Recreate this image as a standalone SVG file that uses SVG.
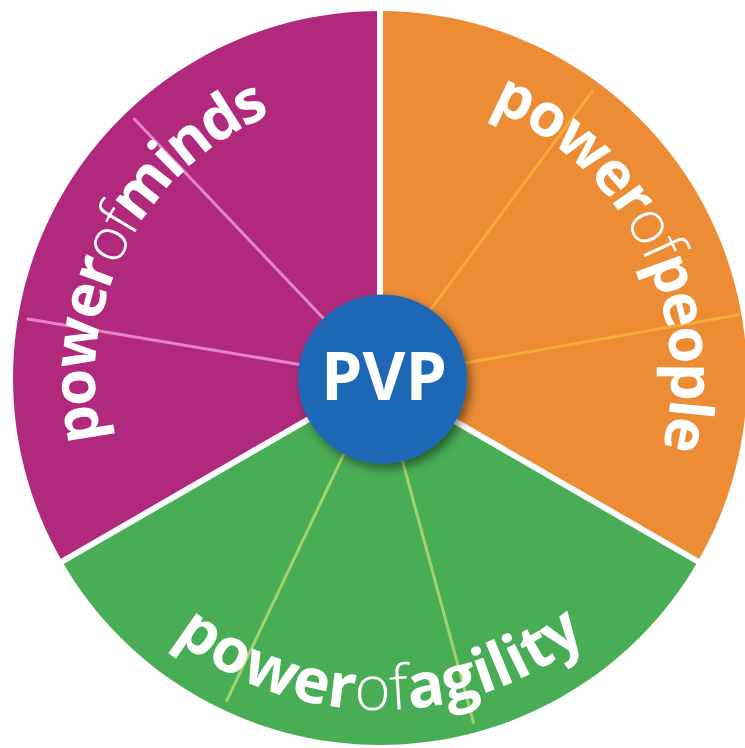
<svg xmlns="http://www.w3.org/2000/svg" width="745" height="748" viewBox="0 0 745 748">
  <style>
    .lbl { font-family: "Open Sans", "Noto Sans", "Liberation Sans", sans-serif; fill: #ffffff; }
    .b { font-weight: 700; }
    .l { font-weight: 300; }
    .gap { stroke: #ffffff; stroke-width: 6; }
    .rib { stroke-width: 3; stroke-linecap: round; }
  </style>
  <defs>
    <!-- baselines for the curved sector titles, centred on the wheel hub -->
    <path id="arcMinds" d="M133.2,520.5 A285,285 0 0 1 380,93" fill="none"/>
    <path id="arcPeople" d="M380,87 A291,291 0 0 1 632,523.5" fill="none"/>
    <path id="arcAgility" d="M92.5,544 A332,332 0 0 0 667.5,544" fill="none"/>
    <filter id="hubShadow" x="-30%" y="-30%" width="160%" height="160%">
      <feDropShadow dx="4" dy="5" stdDeviation="5" flood-color="#000000" flood-opacity="0.45"/>
    </filter>
  </defs>

  <rect width="745" height="748" fill="#ffffff"/>

  <!-- wheel sectors -->
  <g id="sector-minds">
    <path d="M380,378 L62.2,561.5 A367,367 0 0 1 380,11 Z" fill="#b1297d"/>
    <line class="rib" x1="380" y1="378" x2="134.3" y2="119" stroke="#e586c2"/>
    <line class="rib" x1="380" y1="378" x2="28" y2="319" stroke="#e586c2"/>
  </g>
  <g id="sector-people">
    <path d="M380,378 L380,11 A367,367 0 0 1 697.8,561.5 Z" fill="#ec8c35"/>
    <line class="rib" x1="380" y1="378" x2="592.4" y2="91" stroke="#f7aa3c"/>
    <line class="rib" x1="380" y1="378" x2="738" y2="315" stroke="#f7aa3c"/>
  </g>
  <g id="sector-agility">
    <path d="M380,378 L697.8,561.5 A367,367 0 0 1 62.2,561.5 Z" fill="#48ad54"/>
    <line class="rib" x1="380" y1="378" x2="226.8" y2="700.5" stroke="#a0d26e"/>
    <line class="rib" x1="380" y1="378" x2="473.5" y2="722.5" stroke="#a0d26e"/>
  </g>

  <!-- white separators between sectors -->
  <g id="separators">
    <line class="gap" x1="380" y1="378" x2="380" y2="0"/>
    <line class="gap" x1="380" y1="378" x2="50" y2="568.5"/>
    <line class="gap" x1="380" y1="378" x2="710" y2="568.5"/>
  </g>

  <!-- sector titles -->
  <g id="title-minds">
    <text class="lbl" font-size="60" letter-spacing="-2.6"><textPath href="#arcMinds" startOffset="284.5" text-anchor="middle"><tspan class="b">power</tspan><tspan class="l">of</tspan><tspan class="b">minds</tspan></textPath></text>
  </g>
  <g id="title-people">
    <text class="lbl" font-size="60" letter-spacing="-2.4"><textPath href="#arcPeople" startOffset="319.5" text-anchor="middle"><tspan class="b">power</tspan><tspan class="l">of</tspan><tspan class="b">people</tspan></textPath></text>
  </g>
  <g id="title-agility">
    <text class="lbl" font-size="62" letter-spacing="0.3"><textPath href="#arcAgility" startOffset="347.7" text-anchor="middle"><tspan class="b">power</tspan><tspan class="l">of</tspan><tspan class="b">agility</tspan></textPath></text>
  </g>

  <!-- hub -->
  <g id="hub">
    <circle cx="382.5" cy="379" r="84.5" fill="#1f68b5" filter="url(#hubShadow)"/>
    <text class="lbl b" x="384" y="400" font-size="66" text-anchor="middle">PVP</text>
  </g>
</svg>
